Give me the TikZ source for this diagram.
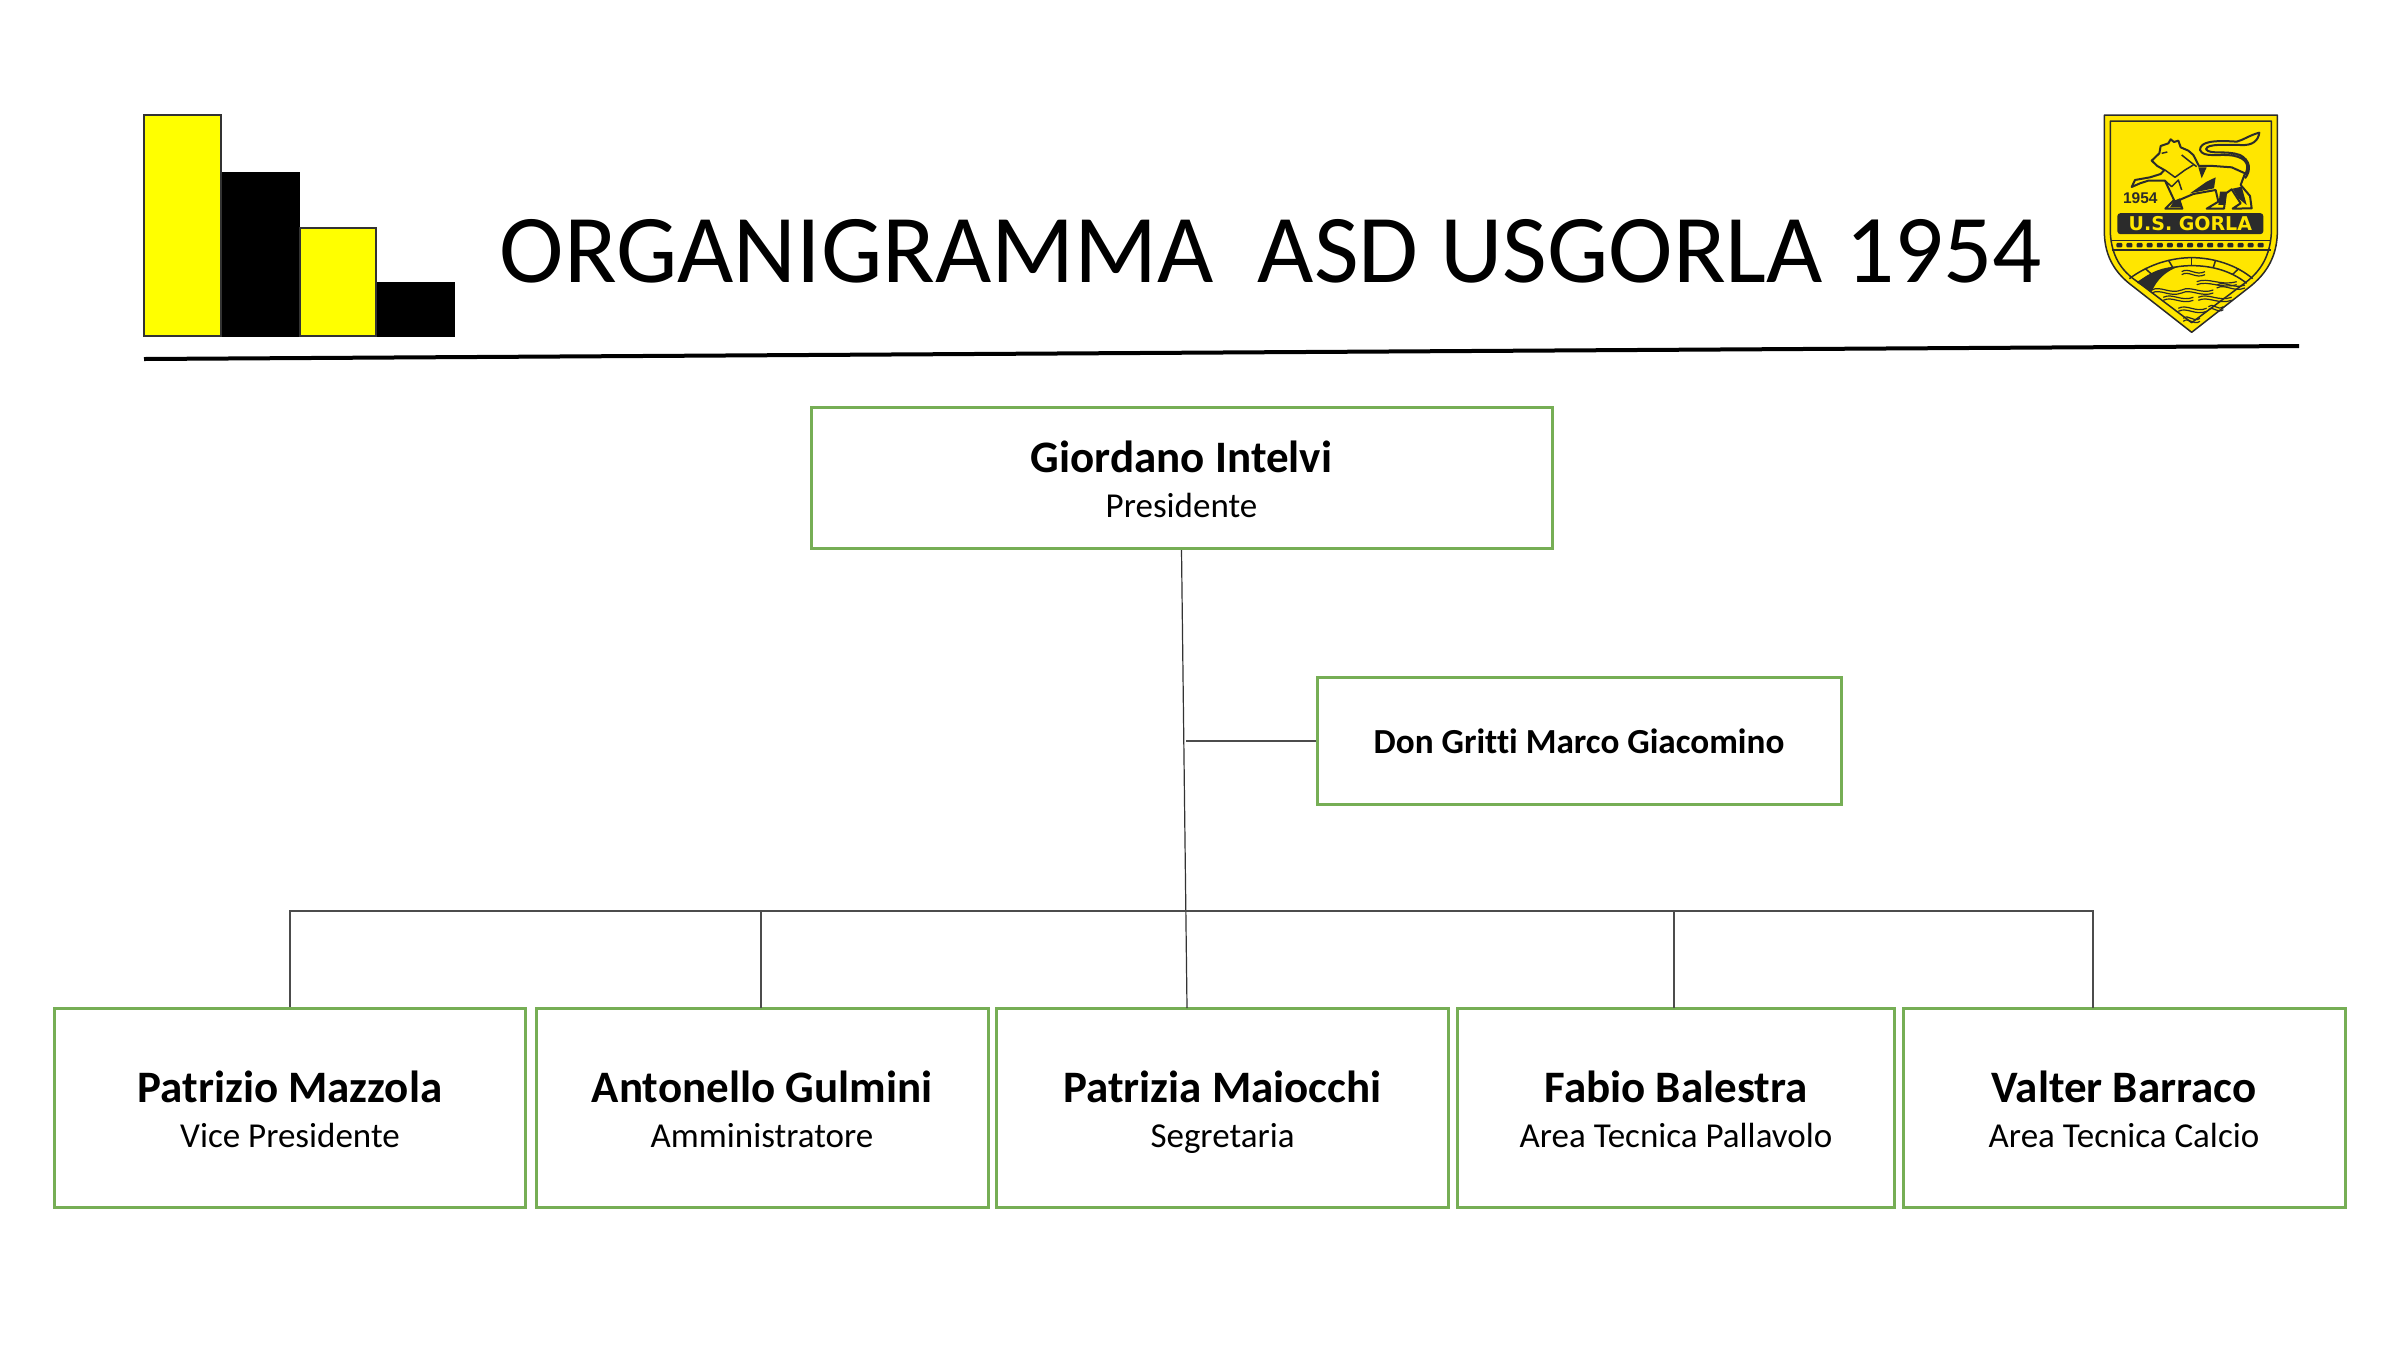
\documentclass[tikz,border=0pt]{standalone}
\usepackage{fontspec}
\setmainfont{Carlito}[Ligatures=NoCommon]
\newfontfamily\crestfont{Liberation Sans}
\newfontfamily\bannerfont{DejaVu Sans}
\definecolor{boxgreen}{HTML}{76AE55}
\definecolor{logoyellow}{HTML}{FFFF00}
\definecolor{crest}{HTML}{FFE600}
\definecolor{crestdark}{HTML}{2B2B2B}
\tikzset{
  orgbox/.style={draw=boxgreen,line width=3pt,fill=white,align=center,inner sep=0pt,font=\fontsize{35}{45}\selectfont},
  link/.style={draw=black!70,line width=1.2pt},
  trunk/.style={draw=black!80,line width=1.2pt},
  barY/.style={fill=logoyellow,draw=black!80,line width=2.5pt},
  barK/.style={fill=black,draw=none},
  crestline/.style={draw=crestdark,line width=2.5pt,line join=round},
  crestfill/.style={fill=crestdark,draw=none},
}
\newcommand{\nm}[1]{{\fontsize{45}{45}\selectfont\bfseries\rule{0pt}{45pt}#1}}
\newcommand{\rl}[1]{#1\rule[-12pt]{0pt}{12pt}}
\begin{document}
\begin{tikzpicture}[x=1pt,y=-1pt]
\useasboundingbox (0,0) rectangle (2400,1350);
% bars
\path[barK] (221,172) rectangle (300,337);
\path[barK] (376,282) rectangle (455,337);
\path[barY] (144,115) rectangle (221,336);
\path[barY] (300,228) rectangle (376,336);
% title
\node (title) at (1271,251) [inner sep=0pt] {\fontsize{97.2}{110}\selectfont ORGANIGRAMMA\ \ ASD USGORLA 1954};
\coordinate (ruleL) at (144,359);
\coordinate (ruleR) at (2299,346);
\draw[line width=4pt] (ruleL) -- (ruleR);
% boxes
\node[orgbox,minimum width=741pt,minimum height=141pt] (pres) at (1181.5,478) {\nm{Giordano Intelvi}\\\rl{Presidente}};
\node[orgbox,minimum width=524pt,minimum height=127pt,font=\fontsize{35.2}{40}\selectfont\bfseries] (don) at (1579,741) {Don Gritti Marco Giacomino};
\node[orgbox,minimum width=471pt,minimum height=199pt] (b1) at (290,1108) {\nm{Patrizio Mazzola}\\\rl{Vice Presidente}};
\node[orgbox,minimum width=452pt,minimum height=199pt] (b2) at (762,1108) {\nm{Antonello Gulmini}\\\rl{Amministratore}};
\node[orgbox,minimum width=452pt,minimum height=199pt] (b3) at (1222.5,1108) {\nm{Patrizia Maiocchi}\\\rl{Segretaria}};
\node[orgbox,minimum width=437pt,minimum height=199pt] (b4) at (1676,1108) {\nm{Fabio Balestra}\\\rl{Area Tecnica Pallavolo}};
\node[orgbox,minimum width=442pt,minimum height=199pt] (b5) at (2124,1108) {\nm{Valter Barraco}\\\rl{Area Tecnica Calcio}};
% connectors
\coordinate (busL) at (290,911);
\coordinate (busR) at (2093,911);
\coordinate (trunkEnd) at (1187,1008);
\coordinate (b5drop) at (2093,1008);
\coordinate (b4drop) at (1674,1008);
\coordinate (donJoin) at (1186,741);
\draw[trunk] (pres.south) -- (trunkEnd);
\draw[link] (donJoin) -- (don.west);
\draw[link] (b1.north) -- (busL) -- (busR) -- (b5drop);
\draw[link] (761,1008) -- (761,911);
\draw[link] (b4drop) -- (b4drop |- busL);
% crest (coordinates of a 3x crop)
\begin{scope}[shift={(2050pt,-90pt)},x=.3333pt,y=-.3333pt]
\path[fill=crest,draw=crestdark,line width=1.5pt,line join=round]
  (163,75) -- (682,75) -- (682,430) .. controls (680,500) and (650,550) .. (600,590) -- (425,727) -- (250,590)
  .. controls (195,550) and (165,500) .. (163,430) -- cycle;
\path[draw=crestdark,line width=1.5pt,line join=round]
  (181,93) -- (664,93) -- (664,430) .. controls (660,495) and (635,540) .. (590,575) -- (425,698) -- (262,575)
  .. controls (210,540) and (185,495) .. (181,430) -- cycle;
% lion tail
\path[crestline,line width=2pt]
  (585,255) .. controls (600,225) and (590,205) .. (550,197) .. controls (510,190) and (460,205) .. (450,180)
  .. controls (450,155) and (490,150) .. (560,155) .. controls (580,150) and (600,135) .. (628,128)
  .. controls (625,150) and (610,168) .. (570,165) .. controls (530,165) and (470,160) .. (468,178)
  .. controls (480,195) and (530,180) .. (570,195) .. controls (600,210) and (605,240) .. (585,265);
% lion body
\path[crestline,fill=crest,line width=2pt]
  (305,212) -- (328,190) -- (332,168) -- (355,160) -- (362,148) -- (372,156) -- (385,152) -- (392,172)
  -- (415,182) -- (430,195) -- (447,228) -- (490,228) -- (545,232) -- (585,250)
  -- (572,285) -- (600,318) -- (605,355) -- (548,356) -- (572,340) -- (545,298) -- (528,310)
  -- (522,356) -- (470,356) -- (505,335) -- (497,300) -- (430,312) -- (388,330) -- (397,356) -- (346,356)
  -- (372,330) -- (345,272) -- (295,272) -- (270,280) -- (245,291) -- (255,270) -- (300,262) -- (332,252)
  -- (343,240) -- (322,228) -- cycle;
\path[crestfill] (445,232) -- (470,232) -- (455,265) -- cycle;
\path[crestfill] (420,310) -- (470,275) -- (497,262) -- (492,295) -- cycle;
\path[crestfill] (548,296) -- (575,290) -- (590,345) -- (565,325) -- cycle;
\path[crestfill] (510,305) -- (530,305) -- (525,345) -- (505,345) -- cycle;
\path[crestfill] (372,332) -- (390,325) -- (396,352) -- (360,352) -- cycle;
\path[crestline,line width=1.5pt] (345,240) -- (375,262) -- (405,240) -- (430,225);
\path[crestline,line width=1.5pt] (345,272) -- (365,290) -- (385,270) -- (395,300);
\path[crestline,line width=1.5pt] (395,195) -- (420,215) -- (440,230);
\path[crestline,line width=1.5pt] (335,190) -- (352,186);
% year
\node (year) at (271,326) [inner sep=0pt,text=crestdark] {\crestfont\fontsize{15.5}{15.5}\selectfont\bfseries 1954};
% banner
\node (banner) at (421,401) [fill=crestdark,rounded corners=3pt,minimum width=146pt,minimum height=21pt,inner sep=0pt,text=crest] {\bannerfont\fontsize{19}{19}\selectfont\bfseries U.S. GORLA};
% dotted band
\draw[crestline,line width=1.5pt] (185,452) -- (662,452);
\draw[crestline,line width=1.5pt] (185,480) -- (662,480);
\foreach \dx in {0,...,14} \path[crestfill,rounded corners=1pt] ({208+\dx*30.3-9},459) rectangle ({208+\dx*30.3+9},472);
% bridge
\path[crestline,line width=1.5pt] (238,566) .. controls (300,520) and (370,503) .. (425,503) .. controls (490,503) and (560,525) .. (608,566);
\path[crestline,line width=1.5pt] (262,578) .. controls (320,540) and (375,527) .. (425,527) .. controls (480,527) and (540,540) .. (590,580);
\foreach \xa/\ya/\xb/\yb in {285/535/305/553,355/510/368/532,425/503/425/527,497/510/490/532,566/536/548/553}
  \path[crestline,line width=1.5pt] (\xa,\ya) -- (\xb,\yb);
\path[crestfill] (262,578) .. controls (300,545) and (340,530) .. (385,530) .. controls (345,545) and (320,570) .. (305,605) -- cycle;
% waves
\foreach \xa/\ya/\xb in {395/545/465,440/575/560,305/600/395,395/600/490,500/585/585,340/622/430,445/622/545,385/655/470,475/650/520,400/685/450} {
  \path[crestline,line width=1.2pt] (\xa,\ya) .. controls ({\xa+(\xb-\xa)*.3},{\ya-14}) and ({\xa+(\xb-\xa)*.6},{\ya+14}) .. (\xb,\ya);
  \path[crestline,line width=1.2pt] (\xa,\ya+9) .. controls ({\xa+(\xb-\xa)*.3},{\ya-5}) and ({\xa+(\xb-\xa)*.6},{\ya+23}) .. (\xb,\ya+9);
}
\end{scope}
\end{tikzpicture}
\end{document}
